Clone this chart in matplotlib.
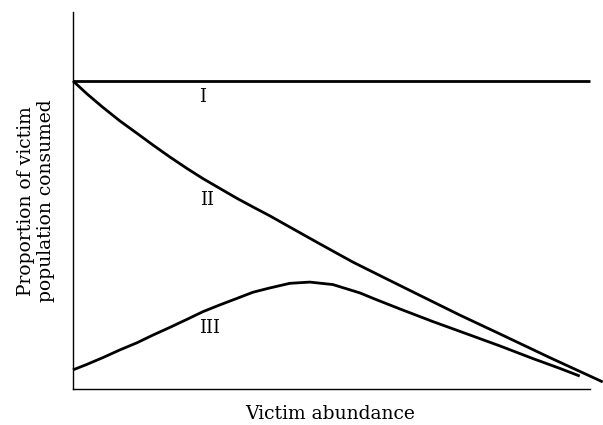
import matplotlib
matplotlib.use("Agg")
import matplotlib.pyplot as plt

# Functional response curves: proportion of victim population consumed vs abundance
abundance_I = [0.0, 10.0]
proportion_I = [1.0, 1.0]

abundance_II = [0.0, 0.271, 0.580, 0.909, 1.238, 1.547, 1.876, 2.205, 2.515, 2.843,
                3.172, 3.482, 3.810, 4.139, 4.778, 5.416, 6.074, 6.712, 7.485, 8.259,
                9.226, 10.251]
proportion_II = [1.0, 0.958, 0.914, 0.870, 0.830, 0.792, 0.753, 0.716, 0.683, 0.651,
                 0.619, 0.591, 0.562, 0.531, 0.471, 0.412, 0.357, 0.304, 0.240, 0.179,
                 0.102, 0.023]

abundance_III = [0.0, 0.271, 0.580, 0.909, 1.238, 1.547, 1.876, 2.205, 2.515, 2.843,
                 3.172, 3.482, 3.810, 4.197, 4.584, 5.029, 5.551, 5.841, 6.325, 6.963,
                 7.621, 8.259, 8.897, 9.420, 9.807]
proportion_III = [0.062, 0.080, 0.102, 0.127, 0.150, 0.175, 0.200, 0.226, 0.251, 0.273,
                  0.294, 0.314, 0.328, 0.343, 0.347, 0.339, 0.312, 0.292, 0.260, 0.219,
                  0.179, 0.140, 0.099, 0.067, 0.042]

labels = ["I", "II", "III"]
label_pos = [(2.515, 0.948), (2.585, 0.614), (2.650, 0.197)]

plt.rcParams['font.family'] = ['DejaVu Serif']

fig = plt.figure(figsize=(6.03, 4.25), dpi=100)
ax = fig.add_axes([0.121, 0.0847, 0.857, 0.8873])

kw = dict(color="black", lw=2.0, solid_capstyle="butt", solid_joinstyle="round",
          clip_on=False)
ax.plot(abundance_I, proportion_I, **kw)
ax.plot(abundance_II, proportion_II, **kw)
ax.plot(abundance_III, proportion_III, **kw)

for txt, (x, y) in zip(labels, label_pos):
    ax.text(x, y, txt, ha="center", va="center", fontsize=13)

ax.set_xlim(0, 10)
ax.set_ylim(0, 1.224)
for side in ("top", "right"):
    ax.spines[side].set_visible(False)
for side in ("left", "bottom"):
    ax.spines[side].set_linewidth(1.0)
ax.set_xticks([])
ax.set_yticks([])

fig.text(0.547, 0.027, "Victim abundance", fontsize=13.5, ha="center", va="center")
fig.text(0.060, 0.527, "Proportion of victim\npopulation consumed", fontsize=13.5,
         ha="center", va="center", rotation=90, linespacing=1.15)

fig.savefig("out.png", dpi=100)
